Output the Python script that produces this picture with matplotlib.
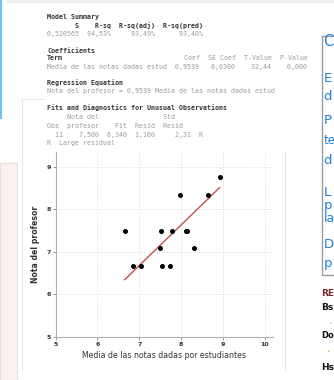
import matplotlib
matplotlib.use("Agg")
import matplotlib.pyplot as plt
from matplotlib.patches import Rectangle
from matplotlib.lines import Line2D

# ---------------- data ----------------
media_estudiantes = [6.65, 6.84, 7.03, 7.51, 7.50, 7.55, 7.73, 7.78, 7.97, 8.11, 8.15, 8.31, 8.64, 8.92]
nota_profesor     = [7.50, 6.67, 6.67, 7.50, 7.08, 6.67, 6.67, 7.50, 8.33, 7.50, 7.50, 7.08, 8.33, 8.75]
coef = 0.9539
x_ticks = [5, 6, 7, 8, 9, 10]
y_ticks = [5, 6, 7, 8, 9]
x_label = "Media de las notas dadas por estudiantes"
y_label = "Nota del profesor"

session_lines = [
    ("Model Summary", True, 17),
    ("       S    R-sq  R-sq(adj)  R-sq(pred)", True, 26),
    ("0,520565  94,53%     93,49%      93,40%", False, 34),
    ("Coefficients", True, 51),
    ("Term", True, 58),
    ("Media de las notas dadas estud  0,9539   0,0300    32,44    0,000", False, 67),
    ("Regression Equation", True, 83),
    ("Nota del profesor = 0,9539 Media de las notas dadas estud", False, 91),
    ("Fits and Diagnostics for Unusual Observations", True, 108),
    ("     Nota del                Std", False, 117),
    ("Obs  profesor    Fit  Resid  Resid", False, 126),
    ("  11    7,500  6,340  1,160     2,31  R", False, 135),
    ("R  Large residual", False, 143),
]
coef_header = "Coef  SE Coef  T-Value  P-Value"

side_lines = [("C", 42, 10.5), ("E", 78, 9.5), ("d", 97, 9.5), ("P", 120, 9.5), ("te", 141, 8.5),
              ("d", 160, 9.5), ("L", 192, 9.5), ("p", 206, 9.5), ("la", 219, 9.0), ("D", 245, 9.5), ("p", 263, 9.5)]
below_lines = [("RE", 293, "#7a2a2a", 6.5), ("Bs", 307, "#111111", 6.5), ("Do", 335, "#111111", 6.0),
               ("Hs", 367, "#111111", 6.5)]

W, H = 334, 380
fig = plt.figure(figsize=(W / 100, H / 100), dpi=100)
fig.patch.set_facecolor("white")

def fx(x):
    return x / W

def fy(y):
    return 1 - y / H

# ---------------- decorations ----------------
fig.add_artist(Rectangle((fx(7), fy(3)), fx(334) - fx(7), 3 / H, transform=fig.transFigure,
                         facecolor="#eeeeee", edgecolor="none"))
fig.add_artist(Line2D([fx(1), fx(1)], [fy(0), fy(118)], transform=fig.transFigure,
                      color="#6cc6f2", lw=1.5))
# pink left panel
fig.add_artist(Rectangle((0, 0), fx(17), fy(163), transform=fig.transFigure,
                         facecolor="#fbf1f1", edgecolor="#eedede", lw=0.8))
# graph panel borders
fig.add_artist(Line2D([fx(22), fx(22)], [fy(99), fy(369)], transform=fig.transFigure,
                      color="#e6e6e6", lw=0.8))
fig.add_artist(Line2D([fx(22), fx(43)], [fy(99), fy(99)], transform=fig.transFigure,
                      color="#e6e6e6", lw=0.8))
fig.add_artist(Line2D([fx(285), fx(285)], [fy(152), fy(369)], transform=fig.transFigure,
                      color="#e3e3e3", lw=0.8))
# right box
fig.add_artist(Rectangle((fx(321.5), fy(275)), fx(340) - fx(321.5), (275 - 35.5) / H,
                         transform=fig.transFigure, facecolor="white", edgecolor="#9a9a9a", lw=1.0))

# ---------------- session text ----------------
for txt, bold, y in session_lines:
    fig.text(fx(47), fy(y), txt, family="DejaVu Sans Mono", fontsize=4.8,
             fontweight="bold" if bold else "normal",
             color="#333333" if bold else "#9a9a9a", va="center", ha="left")
fig.text(fx(184), fy(58), coef_header, family="DejaVu Sans Mono", fontsize=4.8,
         color="#9a9a9a", va="center", ha="left")

for txt, y, fs in side_lines:
    fig.text(fx(323.5), fy(y), txt, fontsize=fs, color="#1f7fd6", va="center", ha="left",
             family="DejaVu Sans")
for txt, y, c, fs in below_lines:
    fig.text(fx(321.5), fy(y), txt, fontsize=fs, color=c, va="center", ha="left",
             fontweight="bold", family="DejaVu Sans")
for y, x in [(323, 328), (352, 326)]:
    fig.text(fx(x), fy(y), "\u2022", fontsize=4, color="#f0a030", va="center", ha="left")

# ---------------- chart ----------------
ax = fig.add_axes([fx(55.7), fy(336.7), fx(273) - fx(55.7), fy(152) - fy(336.7)])
ax.set_facecolor("white")
ax.set_xlim(5, 10.2)
ax.set_ylim(5, 9.35)
ax.set_xticks(x_ticks)
ax.set_yticks(y_ticks)
ax.set_xticklabels([str(t) for t in x_ticks])
ax.set_yticklabels([str(t) for t in y_ticks])
for s in ["top", "right"]:
    ax.spines[s].set_visible(False)
for s in ["left", "bottom"]:
    ax.spines[s].set_color("#b0b0b0")
    ax.spines[s].set_linewidth(0.8)
ax.grid(True, color="#dddddd", linestyle=(0, (1.5, 1.5)), linewidth=0.6)
ax.tick_params(axis="both", length=2, width=0.6, color="#888888", labelsize=4.5,
               labelcolor="#333333", pad=1.5)
for lbl in ax.get_xticklabels() + ax.get_yticklabels():
    lbl.set_fontweight("bold")

xs_line = [min(media_estudiantes), max(media_estudiantes)]
ax.plot(xs_line, [coef * v for v in xs_line], color="#c0504d", lw=1.0, zorder=2)
ax.scatter(media_estudiantes, nota_profesor, s=13, color="black", zorder=3, linewidths=0)

ax.set_xlabel(x_label, fontsize=5.6, color="#333333", labelpad=3)
ax.set_ylabel(y_label, fontsize=5.6, color="#333333", labelpad=5, fontweight="bold")

fig.savefig("out.png", dpi=100)
